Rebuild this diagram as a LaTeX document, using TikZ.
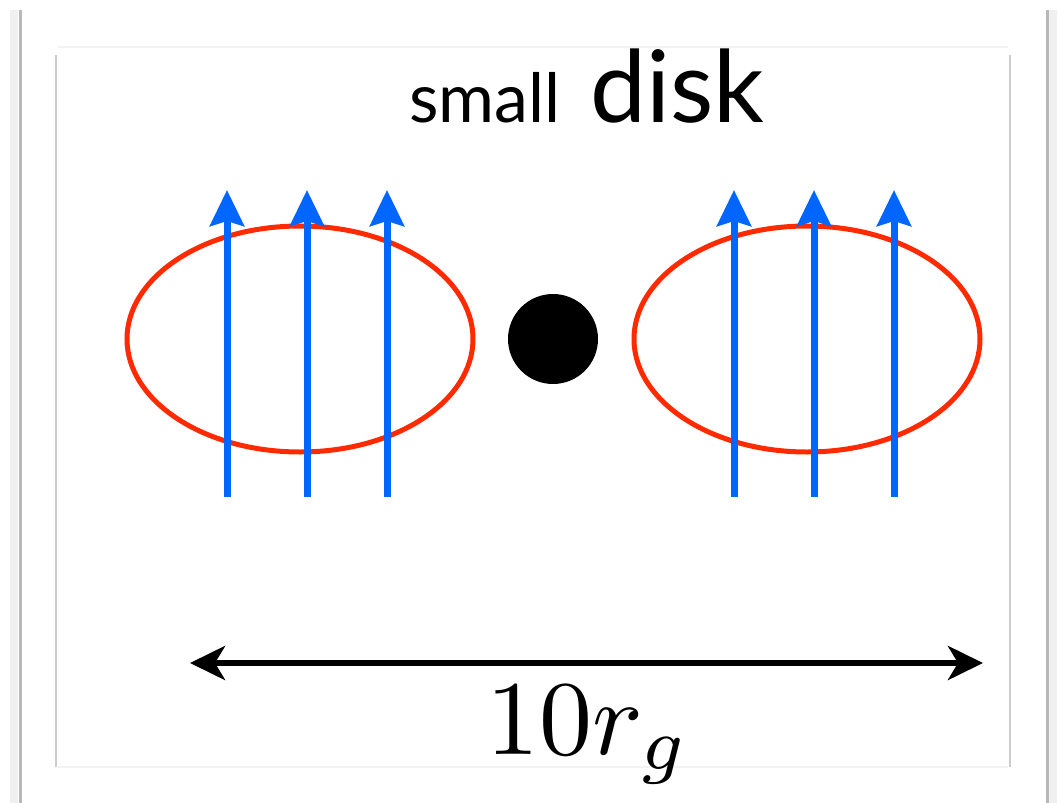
\documentclass[tikz,border=0pt]{standalone}
\usepackage{graphicx}
\usepackage{fontspec}
\newfontfamily\gill{Lato}
\usetikzlibrary{arrows.meta,shapes.geometric}
\definecolor{fieldblue}{HTML}{0066FF}
\definecolor{diskred}{HTML}{FF2A00}
\tikzset{
  diskring/.style={ellipse,draw=diskred,line width=5pt,minimum width=346pt,minimum height=226pt,inner sep=0pt},
  fieldline/.style={draw=fieldblue,line width=7pt,-{Stealth[length=36pt,width=34pt,inset=5pt]}},
  scalearrow/.style={draw=black,line width=6pt,{Stealth[length=35pt,width=34pt,inset=10pt]}-{Stealth[length=35pt,width=34pt,inset=10pt]}},
  frameline/.style={line width=3pt,draw=black!28},
  innerline/.style={line width=2pt,draw=black!20},
  faintline/.style={line width=1.5pt,draw=black!5}
}
\begin{document}
\begin{tikzpicture}[x=1pt,y=-1pt]
\useasboundingbox (0,0) rectangle (1058,803);
% page frames
\draw[line width=8pt,draw=black!6] (14,10) -- (14,803);
\draw[frameline] (20,10) -- (20,803);
\draw[line width=8pt,draw=black!6] (1053,10) -- (1053,803);
\draw[frameline] (1047,10) -- (1047,803);
\draw[innerline] (56,55) -- (56,767);
\draw[innerline] (1010,55) -- (1010,767);
\draw[faintline] (58,47) -- (1008,47);
\draw[faintline] (58,767) -- (1008,767);
% title
\node[anchor=base west,inner sep=0pt] (tsmall) at (409,122) {\gill\fontsize{68}{80}\selectfont small};
\node[anchor=base west,inner sep=0pt] (tdisk) at (590,122) {\gill\fontsize{100}{120}\selectfont disk};
% disks
\node[diskring] (ldisk) at (300,339) {};
\node[diskring] (rdisk) at (807,339) {};
\node[circle,fill=black,minimum size=90pt,inner sep=0pt] (bh) at (553,339) {};
% field lines
\foreach \i/\x in {1/227,2/307,3/387,4/734,5/814,6/894}{
  \coordinate (fb\i) at (\x,497);
  \coordinate (ft\i) at (\x,190);
  \draw[fieldline] (fb\i) -- (ft\i);
}
% scale
\coordinate (sl) at (190,663);
\coordinate (sr) at (983,663);
\draw[scalearrow] (sl) -- (sr);
\node[inner sep=0pt,anchor=base] (scale) at (588,754) {\scalebox{10.6}{$10r_g$}};
\end{tikzpicture}
\end{document}
